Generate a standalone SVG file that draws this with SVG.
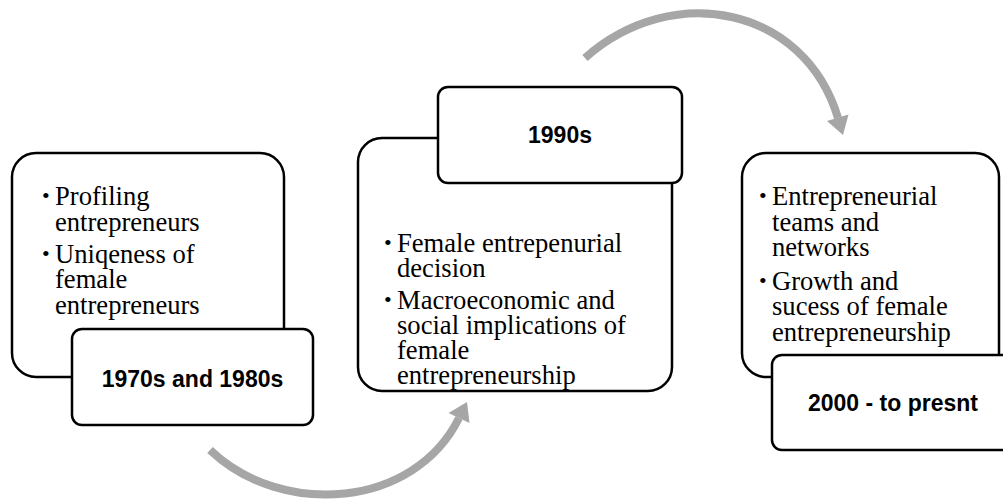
<svg xmlns="http://www.w3.org/2000/svg" width="1003" height="501" viewBox="0 0 1003 501">
  <style>
    .panel { fill: #ffffff; stroke: #000000; stroke-width: 2.5; }
    .tag { fill: #ffffff; stroke: #000000; stroke-width: 2.5; }
    .body { font-family: "Liberation Serif", "Times New Roman", serif; font-size: 26.6px; fill: #000000; }
    .dot { font-size: 22px; }
    .title { font-family: "Liberation Sans", Arial, sans-serif; font-weight: bold; font-size: 23px; fill: #000000; text-anchor: middle; }
    .flow { fill: none; stroke: #a6a6a6; stroke-width: 8; }
    .head { fill: #a6a6a6; }
  </style>

  <!-- curved arrows between the periods -->
  <g id="connectors">
    <path class="flow" d="M210,450 C282.5,518.9 414.8,507.7 459,418"/>
    <polygon class="head" points="467,402 469.5,423 448.5,413"/>
    <path class="flow" d="M585,58 C672.4,-19.4 804.5,6.1 838,118"/>
    <polygon class="head" points="843,135 848.5,114.5 827,121"/>
  </g>

  <!-- 1970s and 1980s -->
  <g id="period-1970s-1980s">
    <rect class="panel" x="12" y="153" width="272" height="224" rx="24" ry="24"/>
    <text class="body"><tspan class="dot" x="42" y="203">•</tspan><tspan x="55" y="205">Profiling</tspan><tspan x="55" y="231">entrepreneurs</tspan></text>
    <text class="body"><tspan class="dot" x="42" y="261">•</tspan><tspan x="55" y="263">Uniqeness of</tspan><tspan x="55" y="288">female</tspan><tspan x="55" y="314">entrepreneurs</tspan></text>
    <rect class="tag" x="72" y="329" width="241" height="96" rx="10" ry="10"/>
    <text class="title" x="192.5" y="387">1970s and 1980s</text>
  </g>

  <!-- 1990s -->
  <g id="period-1990s">
    <rect class="panel" x="358" y="138" width="314" height="253" rx="24" ry="24"/>
    <text class="body"><tspan class="dot" x="384" y="250">•</tspan><tspan x="397" y="252">Female entrepenurial</tspan><tspan x="397" y="277">decision</tspan></text>
    <text class="body"><tspan class="dot" x="384" y="307">•</tspan><tspan x="397" y="309">Macroeconomic and</tspan><tspan x="397" y="334">social implications of</tspan><tspan x="397" y="359">female</tspan><tspan x="397" y="384">entrepreneurship</tspan></text>
    <rect class="tag" x="438" y="87" width="244" height="96" rx="10" ry="10"/>
    <text class="title" x="560" y="143">1990s</text>
  </g>

  <!-- 2000 to present -->
  <g id="period-2000-present">
    <rect class="panel" x="742" y="153" width="257" height="224" rx="24" ry="24"/>
    <text class="body"><tspan class="dot" x="759" y="203">•</tspan><tspan x="772" y="205">Entrepreneurial</tspan><tspan x="772" y="231">teams and</tspan><tspan x="772" y="256">networks</tspan></text>
    <text class="body"><tspan class="dot" x="759" y="288">•</tspan><tspan x="772" y="290">Growth and</tspan><tspan x="772" y="315">sucess of female</tspan><tspan x="772" y="341">entrepreneurship</tspan></text>
    <rect class="tag" x="772" y="355" width="242" height="95" rx="10" ry="10"/>
    <text class="title" x="893" y="411">2000 - to presnt</text>
  </g>
</svg>
